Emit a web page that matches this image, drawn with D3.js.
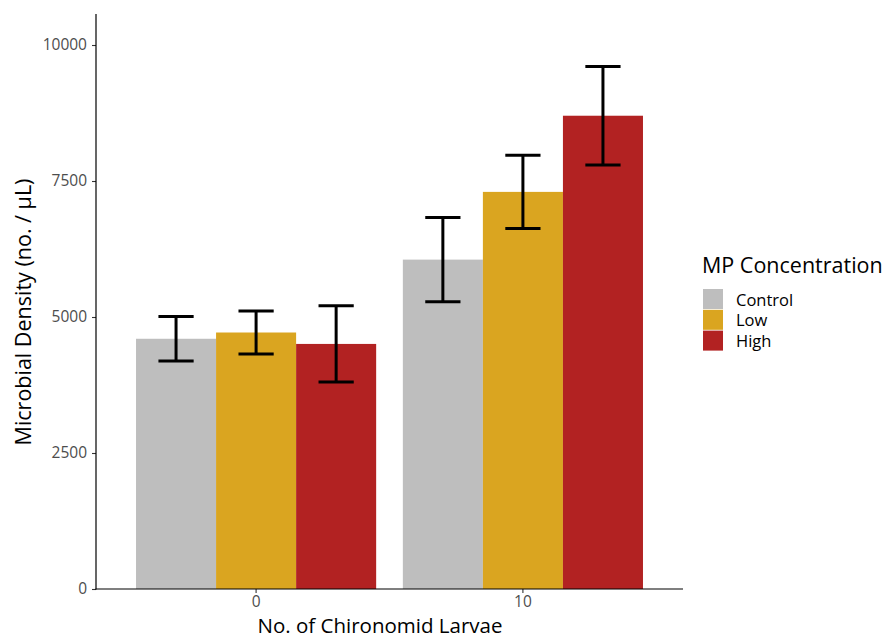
<!DOCTYPE html>
<html>
<head>
<meta charset="utf-8">
<script src="https://cdn.jsdelivr.net/npm/d3@7"></script>
<style>
  html, body { margin: 0; padding: 0; background: #ffffff; }
  svg { display: block; font-family: "Open Sans", "Noto Sans", sans-serif; }
</style>
</head>
<body>
<svg id="chart" width="888" height="639"></svg>
<script>
// Larvae counts on the x axis and the three microplastic treatments
const larvae = ["0", "10"];
const concentrations = ["Control", "Low", "High"];
const concColors = ["#BEBEBE", "#DAA520", "#B22222"];

// Mean microbial density (no. / µL) per treatment, one array per larvae count
const meanAt0 = [4600, 4715, 4505];
const meanAt10 = [6055, 7300, 8700];
// Half-widths of the error bars
const errAt0 = [410, 395, 700];
const errAt10 = [775, 675, 905];

const yTicks = [0, 2500, 5000, 7500, 10000];
const yMax = 10570;

const rows = [];
larvae.forEach((l, i) => {
  const means = i === 0 ? meanAt0 : meanAt10;
  const errs = i === 0 ? errAt0 : errAt10;
  concentrations.forEach((c, j) => rows.push({ larvae: l, conc: c, mean: means[j], err: errs[j] }));
});

const svg = d3.select("#chart");
const panel = { left: 96, right: 683, top: 14, bottom: 589 };

const x = d3.scaleBand().domain(larvae).range([panel.left, panel.right])
  .paddingInner(0.1).paddingOuter(0.15);
const xInner = d3.scaleBand().domain(concentrations).range([0, x.bandwidth()]).padding(0);
const y = d3.scaleLinear().domain([0, yMax]).range([panel.bottom, panel.top]);
const color = d3.scaleOrdinal().domain(concentrations).range(concColors);

// bars
svg.append("g").selectAll("rect").data(rows).join("rect")
  .attr("x", d => x(d.larvae) + xInner(d.conc))
  .attr("y", d => y(d.mean))
  .attr("width", xInner.bandwidth())
  .attr("height", d => y(0) - y(d.mean))
  .attr("fill", d => color(d.conc));

// error bars
const capHalf = xInner.bandwidth() * 0.22;
const eb = svg.append("g").attr("stroke", "#000").attr("stroke-width", 3).attr("fill", "none");
rows.forEach(d => {
  const cx = x(d.larvae) + xInner(d.conc) + xInner.bandwidth() / 2;
  const lo = y(d.mean - d.err), hi = y(d.mean + d.err);
  eb.append("line").attr("x1", cx).attr("x2", cx).attr("y1", lo).attr("y2", hi);
  eb.append("line").attr("x1", cx - capHalf).attr("x2", cx + capHalf).attr("y1", lo).attr("y2", lo);
  eb.append("line").attr("x1", cx - capHalf).attr("x2", cx + capHalf).attr("y1", hi).attr("y2", hi);
});

// axes
const yAxis = d3.axisLeft(y).tickValues(yTicks).tickSize(4).tickPadding(5).tickFormat(d3.format("d"));
const gy = svg.append("g").attr("transform", `translate(${panel.left},0)`).call(yAxis);
const xAxis = d3.axisBottom(x).tickSize(4).tickPadding(3);
const gx = svg.append("g").attr("transform", `translate(0,${panel.bottom})`).call(xAxis);
[gx, gy].forEach(g => {
  g.select(".domain").remove();
  g.selectAll(".tick line").attr("stroke", "#333333").attr("stroke-width", 1.1);
  g.selectAll(".tick text").attr("fill", "#4d4d4d").style("font-size", "15.5px")
    .style("font-family", "'Open Sans', sans-serif");
});
svg.append("line").attr("x1", panel.left).attr("x2", panel.left)
  .attr("y1", panel.top).attr("y2", panel.bottom + 0.5).attr("stroke", "#000").attr("stroke-width", 1.2);
svg.append("line").attr("x1", panel.left - 0.5).attr("x2", panel.right)
  .attr("y1", panel.bottom).attr("y2", panel.bottom).attr("stroke", "#000").attr("stroke-width", 1.2);

// axis titles
svg.append("text").attr("x", 380).attr("y", 633).attr("text-anchor", "middle")
  .style("font-size", "20.5px").attr("fill", "#000").text("No. of Chironomid Larvae");
svg.append("text").attr("transform", "translate(31,312) rotate(-90)").attr("text-anchor", "middle")
  .style("font-size", "21.5px").attr("fill", "#000").text("Microbial Density (no. / µL)");

// legend
const lg = svg.append("g");
lg.append("text").attr("x", 702).attr("y", 273).style("font-size", "21.5px").attr("fill", "#000")
  .text("MP Concentration");
concentrations.forEach((c, i) => {
  const top = 289 + i * 20.8;
  lg.append("rect").attr("x", 703).attr("y", top).attr("width", 20).attr("height", 20).attr("fill", color(c));
  lg.append("text").attr("x", 736).attr("y", top + 16.5).style("font-size", "16.5px").attr("fill", "#000").text(c);
});
</script>
</body>
</html>
